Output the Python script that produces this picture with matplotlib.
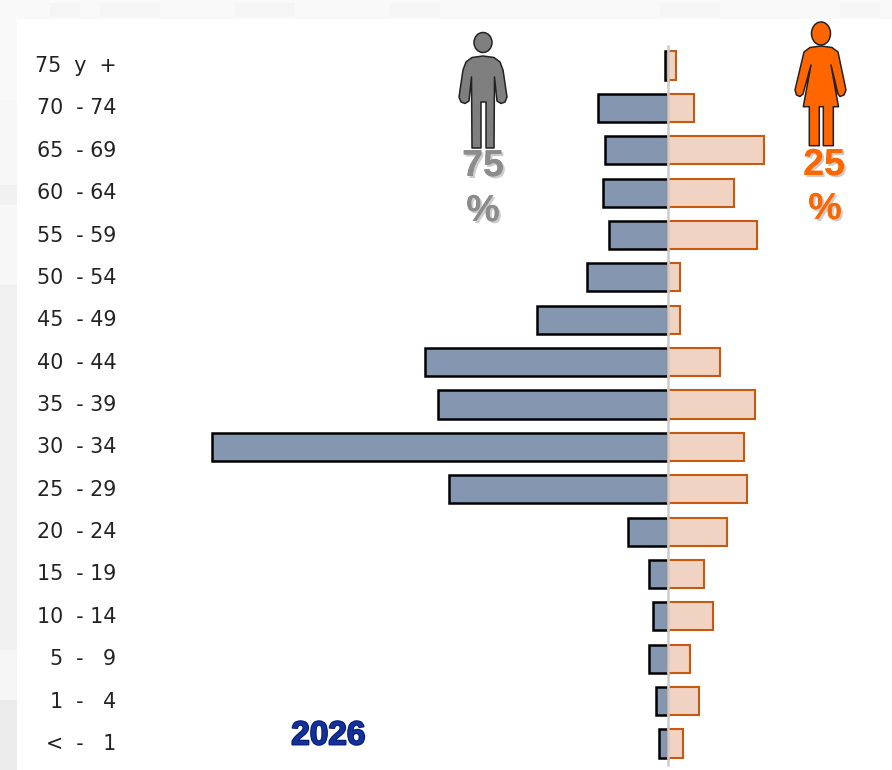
import matplotlib
matplotlib.use('Agg')
import matplotlib.pyplot as plt
import matplotlib.patheffects as pe
from matplotlib.patches import Polygon, Ellipse, Rectangle
from matplotlib.transforms import ScaledTranslation

W, H = 892, 770

ages = ['75  y  +', '70  - 74', '65  - 69', '60  - 64', '55  - 59', '50  - 54', '45  - 49', '40  - 44',
        '35  - 39', '30  - 34', '25  - 29', '20  - 24', '15  - 19', '10  - 14', '5  -   9', '1  -   4', '<  -   1']
hombres = [3, 70, 63, 65, 59, 81, 131, 243, 230, 456, 219, 40, 19, 15, 19, 12, 9]
mujeres = [8, 26, 96, 66, 89, 12, 12, 52, 87, 76, 79, 59, 36, 45, 22, 31, 15]
anio = '2026'
pct_h = '75'
pct_m = '25'

# silhouettes in pixels
man = [(483,56),(494,57.5),(500,62),(503,70),(507,97),(505,102),(501,103.5),(497,101),(494.5,77),(494,148),
       (486,148),(486,102),(481,102),(481,148),(472,148),(471.5,77),(469,101),(465,103.5),(461,102),(459,97),
       (463,70),(466,62),(472,57.5)]
woman = [(821,46),(832,47.5),(838,52),(846,90),(844,95),(840,96.5),(838,94),(831,65),(838.5,106.7),(833.3,106.7),
         (833.3,145.7),(823.3,145.7),(823.3,106.7),(819.3,106.7),(819.3,145.7),(809.3,145.7),(809.3,106.7),(803.3,106.7),
         (811,65),(803,94),(800,96.5),(796.5,95),(795,90),(804,52),(810,47.5)]

fig = plt.figure(figsize=(W/100., H/100.), dpi=100, facecolor='#f9f9f9')

# pixel layer behind the chart
bg = fig.add_axes([0, 0, 1, 1])
bg.set_xlim(0, W)
bg.set_ylim(H, 0)
bg.axis('off')
bg.add_patch(Rectangle((17, 19), W-17, H-19, fc='white', ec='none'))
for y0, h0, c in [(100, 185, '#f7f7f7'), (185, 20, '#f1f1f1'), (285, 365, '#f0f0f0'), (650, 50, '#f6f6f6'), (700, 70, '#ebebeb')]:
    bg.add_patch(Rectangle((0, y0), 17, h0, fc=c, ec='none'))
for x0, w0 in [(50, 30), (100, 60), (235, 60), (390, 50), (660, 60), (840, 40)]:
    bg.add_patch(Rectangle((x0, 3), w0, 14, fc='#f5f5f5', ec='none'))

# chart: one data unit = one pixel, zero at x=668
left = 125
ax = fig.add_axes([left/float(W), 0, 1-left/float(W), 1])
ax.patch.set_alpha(0)
y = list(range(len(ages)))
ax.barh(y, [-v for v in hombres], height=0.665, color='#8496b0', edgecolor='black', linewidth=1.8)
ax.barh(y, mujeres, height=0.665, color='#f0d3c2', edgecolor='#c55a11', linewidth=1.5)
ax.axvline(0, ymin=5./H, ymax=1-46./H, color='#cccccc', lw=1.8, zorder=5)
ax.set_xlim(left-668, W-668)
ax.set_ylim((H-65.5)/42.375, -65.5/42.375)
ax.set_xticks([])
ax.set_yticks(y)
ax.set_yticklabels(ages, fontsize=14.9, color='#222222')
ax.tick_params(axis='y', length=0, pad=6.2)
up = ScaledTranslation(0, 1.5/100., fig.dpi_scale_trans)
for lab in ax.get_yticklabels():
    lab.set_transform(lab.get_transform() + up)
for s in ax.spines.values():
    s.set_visible(False)

# icons and big labels, pixel coords
top = fig.add_axes([0, 0, 1, 1])
top.set_xlim(0, W)
top.set_ylim(H, 0)
top.axis('off')
top.add_patch(Ellipse((483, 42.5), 18, 20, fc='#7f7f7f', ec='#222222', lw=1.1))
top.add_patch(Polygon(man, closed=True, fc='#7f7f7f', ec='#222222', lw=1.1, joinstyle='round'))
top.add_patch(Ellipse((821, 33.5), 19, 23, fc='#ff6600', ec='#222222', lw=1.1))
top.add_patch(Polygon(woman, closed=True, fc='#ff6600', ec='#222222', lw=1.1, joinstyle='round'))

shadow = [pe.withSimplePatchShadow(offset=(1.5, -1.5), shadow_rgbFace='#aaaaaa', alpha=0.6)]
for txt, xp, yp, col in [(pct_h, 483, 166, '#8c8c8c'), ('%', 483, 211, '#8c8c8c'),
                         (pct_m, 824, 165, '#ff6600'), ('%', 825, 209, '#ff6600')]:
    t = top.text(xp, yp, txt, color=col, fontsize=27, fontweight='bold', family='Liberation Sans',
                 ha='center', va='center')
    t.set_path_effects(shadow + [pe.Normal()])

t = top.text(328.5, 736, anio, color='#14309a', fontsize=24, fontweight='bold', family='Liberation Sans',
             ha='center', va='center')
t.set_path_effects([pe.withStroke(linewidth=1.4, foreground='#001a70')])

fig.savefig('out.png', dpi=100, facecolor=fig.get_facecolor())
